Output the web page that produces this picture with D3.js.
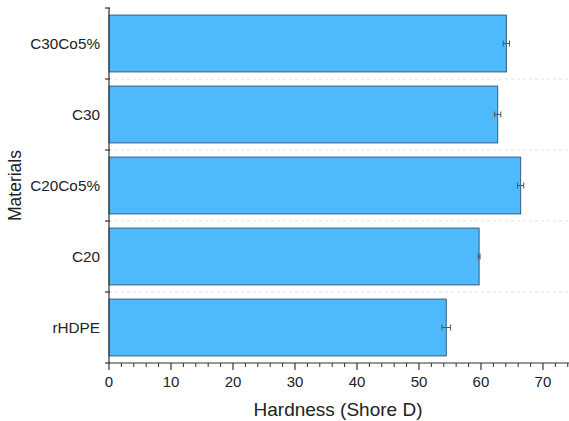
<!DOCTYPE html>
<html>
<head>
<meta charset="utf-8">
<script src="https://cdn.jsdelivr.net/npm/d3@7"></script>
<style>
  html, body { margin: 0; padding: 0; background: #fff; }
  svg { display: block; font-family: "Liberation Sans", Arial, sans-serif; }
</style>
</head>
<body>
<svg id="chart" width="569" height="421"></svg>
<script>
// Shore D hardness per material (top to bottom)
const materials = ["C30Co5%", "C30", "C20Co5%", "C20", "rHDPE"];
const hardness  = [64.1, 62.7, 66.4, 59.7, 54.4];
const hardnessErr = [0.5, 0.5, 0.5, 0.15, 0.7];
const xTicks = [0, 10, 20, 30, 40, 50, 60, 70];

const svg = d3.select("#chart");
const plotL = 109, plotR = 569, plotT = 8, plotB = 363;

const x = d3.scaleLinear().domain([0, 74.2]).range([plotL, plotR]);
const y = d3.scaleBand().domain(materials).range([plotT, plotB]).paddingInner(0.2).paddingOuter(0.1);

// faint dashed separators between categories
const bounds = d3.range(1, materials.length).map(i => plotT + i * (plotB - plotT) / materials.length);
svg.append("g").selectAll("line").data(bounds).join("line")
  .attr("x1", plotL).attr("x2", plotR)
  .attr("y1", d => d).attr("y2", d => d)
  .attr("stroke", "#dcdcdc").attr("stroke-width", 0.8)
  .attr("stroke-dasharray", "3,3");

// bars
svg.append("g").selectAll("rect").data(materials).join("rect")
  .attr("x", x(0))
  .attr("y", d => y(d))
  .attr("width", (d, i) => x(hardness[i]) - x(0))
  .attr("height", y.bandwidth())
  .attr("fill", "#4fb9fd")
  .attr("stroke", "#2f5f7f")
  .attr("stroke-width", 1);

// error bars
const eg = svg.append("g").attr("stroke", "#555").attr("stroke-width", 1);
materials.forEach((m, i) => {
  const cy = y(m) + y.bandwidth() / 2;
  const x0 = x(hardness[i] - hardnessErr[i]), x1 = x(hardness[i] + hardnessErr[i]);
  eg.append("line").attr("x1", x0).attr("x2", x1).attr("y1", cy).attr("y2", cy);
  eg.append("line").attr("x1", x0).attr("x2", x0).attr("y1", cy - 3).attr("y2", cy + 3);
  eg.append("line").attr("x1", x1).attr("x2", x1).attr("y1", cy - 3).attr("y2", cy + 3);
});

// x axis: major every 10, minor every 2
const xg = svg.append("g").attr("transform", `translate(0,${plotB})`);
xg.append("line").attr("x1", plotL).attr("x2", plotR).attr("y1", 0).attr("y2", 0)
  .attr("stroke", "#333").attr("stroke-width", 1.2);
const minor = d3.range(0, 74.01, 2).filter(v => v % 10 !== 0);
xg.selectAll("line.minor").data(minor).join("line").attr("class", "minor")
  .attr("x1", d => x(d)).attr("x2", d => x(d)).attr("y1", 0).attr("y2", 4)
  .attr("stroke", "#333");
xg.selectAll("line.major").data(xTicks).join("line").attr("class", "major")
  .attr("x1", d => x(d)).attr("x2", d => x(d)).attr("y1", 0).attr("y2", 7)
  .attr("stroke", "#333").attr("stroke-width", 1.2);
xg.selectAll("text").data(xTicks).join("text")
  .attr("x", d => x(d)).attr("y", 24)
  .attr("text-anchor", "middle")
  .attr("font-size", 15).attr("fill", "#222")
  .text(d => d);

// y axis
const yg = svg.append("g");
yg.append("line").attr("x1", plotL).attr("x2", plotL).attr("y1", plotT).attr("y2", plotB)
  .attr("stroke", "#333").attr("stroke-width", 1.2);
const yTickPos = [plotT, ...bounds, plotB];
yg.selectAll("line.t").data(yTickPos).join("line").attr("class", "t")
  .attr("x1", plotL - 4).attr("x2", plotL + 1).attr("y1", d => d).attr("y2", d => d)
  .attr("stroke", "#333").attr("stroke-width", 1.2);
yg.selectAll("text").data(materials).join("text")
  .attr("x", 100).attr("y", d => y(d) + y.bandwidth() / 2)
  .attr("dy", "0.35em")
  .attr("text-anchor", "end")
  .attr("font-size", 15.3).attr("fill", "#222")
  .text(d => d);

// axis titles
svg.append("text")
  .attr("x", 338).attr("y", 416)
  .attr("text-anchor", "middle")
  .attr("font-size", 19).attr("fill", "#222")
  .text("Hardness (Shore D)");
svg.append("text")
  .attr("transform", `translate(21,${(plotT + plotB) / 2}) rotate(-90)`)
  .attr("text-anchor", "middle")
  .attr("font-size", 17.5).attr("fill", "#222")
  .text("Materials");
</script>
</body>
</html>
